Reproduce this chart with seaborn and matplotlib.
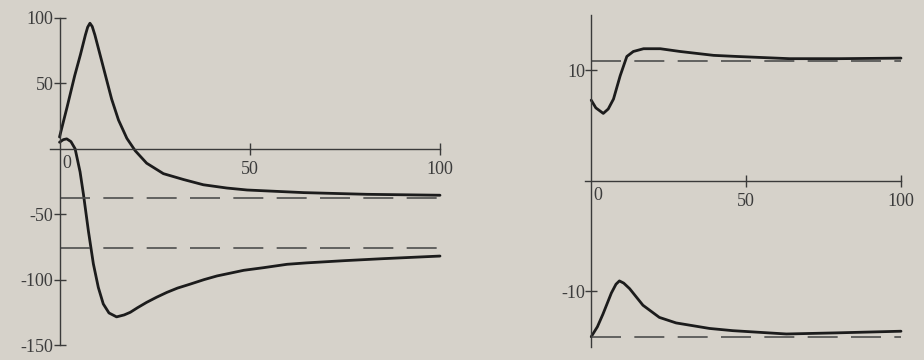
import matplotlib
matplotlib.use("Agg")
import matplotlib.pyplot as plt
import seaborn as sns
import pandas as pd

# left panel: two responses and their steady-state levels
left_x_a = [0, 2, 4, 5.5, 6.8, 7.4, 8.0, 8.6, 9.3, 11.1, 12.8, 13.7, 15.5, 17.7, 19.9, 22.9, 27.3,
            32.6, 37.8, 44, 49.3, 64.2, 80.8, 100]
left_y_a = [9, 32, 56, 72, 87, 93, 96, 93.5, 87, 67, 48, 38, 22, 8, -1.5, -11, -19,
            -23.5, -27.5, -30, -31.5, -33.5, -34.8, -35.5]
left_x_b = [0, 1.0, 1.9, 3.0, 4.1, 5.4, 6.3, 7.6, 8.9, 10.2, 11.5, 13, 15, 17, 18.6, 20.5, 22.9,
            25.5, 28.2, 31, 34.3, 38, 41.4, 45, 48.4, 53.6, 59.8, 65, 75, 85, 100]
left_y_b = [5, 7, 7.6, 5.5, 0, -17.6, -35, -63, -88, -106, -118.6, -125.5, -128.5, -127, -125,
            -121.5, -117.4, -113.5, -109.8, -106.5, -103.5, -100, -97.2, -95, -92.9, -90.9,
            -88.3, -87.2, -85.5, -84, -82]
left_levels = [-37.5, -76]
left_yticks = [100, 50, -50, -100, -150]
left_ylabels = ["100", "50", "-50", "-100", "-150"]

# right panel
right_x_a = [0, 1.5, 3.9, 5.5, 7.2, 9.35, 11.5, 13.6, 16.9, 22.3, 28.7, 39.5, 47, 64, 80, 100]
right_y_a = [7.3, 6.6, 6.1, 6.5, 7.4, 9.5, 11.25, 11.7, 11.95, 11.95, 11.7, 11.35, 11.25, 11.05,
             11.05, 11.1]
right_x_b = [0, 2, 3.8, 6.5, 8.0, 9.1, 10.5, 12.4, 16.7, 22, 27.4, 38.2, 45.7, 63, 79, 100]
right_y_b = [-14.1, -13.2, -12.05, -10.15, -9.35, -9.05, -9.25, -9.75, -11.25, -12.35, -12.85,
             -13.35, -13.55, -13.85, -13.75, -13.6]
right_levels = [10.8, -14.1]
right_yticks = [10, -10]
right_ylabels = ["10", "-10"]

xticks = [0, 50, 100]
xlabels = ["0", "50", "100"]

paper = "#d6d2ca"
ink = "#1c1c1c"
axis_col = "#3a3a3a"

sns.set_theme(style="white")
plt.rcParams['font.family'] = ['Liberation Serif', 'DejaVu Serif']
plt.rcParams['axes.unicode_minus'] = False


def style_axes(ax, xlim, ylim, yticks, ylabels):
    ax.set_facecolor("none")
    ax.set_xlim(*xlim)
    ax.set_ylim(*ylim)
    for side in ["top", "right"]:
        ax.spines[side].set_visible(False)
    for side in ["left", "bottom"]:
        ax.spines[side].set_position(("data", 0))
        ax.spines[side].set_color(axis_col)
        ax.spines[side].set_linewidth(1.0)
    ax.set_xticks(xticks[1:])
    ax.set_xticklabels(xlabels[1:])
    ax.set_yticks(yticks)
    ax.set_yticklabels(ylabels)
    ax.tick_params(axis="both", direction="inout", length=9, width=1,
                   left=True, bottom=True,
                   colors=axis_col, labelcolor="#3c3c3c", labelsize=13)
    ax.tick_params(axis="y", pad=0)
    ax.tick_params(axis="x", pad=4)
    ax.set_xlabel("")
    ax.set_ylabel("")


def draw_curves(ax, curves, levels):
    for xs, ys in curves:
        df = pd.DataFrame({"x": xs, "y": ys})
        sns.lineplot(data=df, x="x", y="y", ax=ax, color=ink, linewidth=2.0,
                     estimator=None, sort=False, clip_on=False)
    ax.hlines(levels, 0, 100, colors="#4e4e4e", linewidth=1.2,
              linestyles=(0, (18, 8)))


fig = plt.figure(figsize=(9.24, 3.6), dpi=100, facecolor=paper)

ax1 = fig.add_axes([50 / 924, 15 / 360, 390 / 924, 327 / 360])
draw_curves(ax1, [(left_x_a, left_y_a), (left_x_b, left_y_b)], left_levels)
style_axes(ax1, (-2.5, 100), (-150, 100), left_yticks, left_ylabels)
ax1.text(0.8, -5, xlabels[0], ha="left", va="top", fontsize=13, color="#3c3c3c")

ax2 = fig.add_axes([585 / 924, 13.3 / 360, 316 / 924, 331.7 / 360])
draw_curves(ax2, [(right_x_a, right_y_a), (right_x_b, right_y_b)], right_levels)
style_axes(ax2, (-2, 100), (-15, 15), right_yticks, right_ylabels)
ax2.text(0.8, -0.6, xlabels[0], ha="left", va="top", fontsize=13, color="#3c3c3c")

fig.savefig("out.png", dpi=100, facecolor=paper)
